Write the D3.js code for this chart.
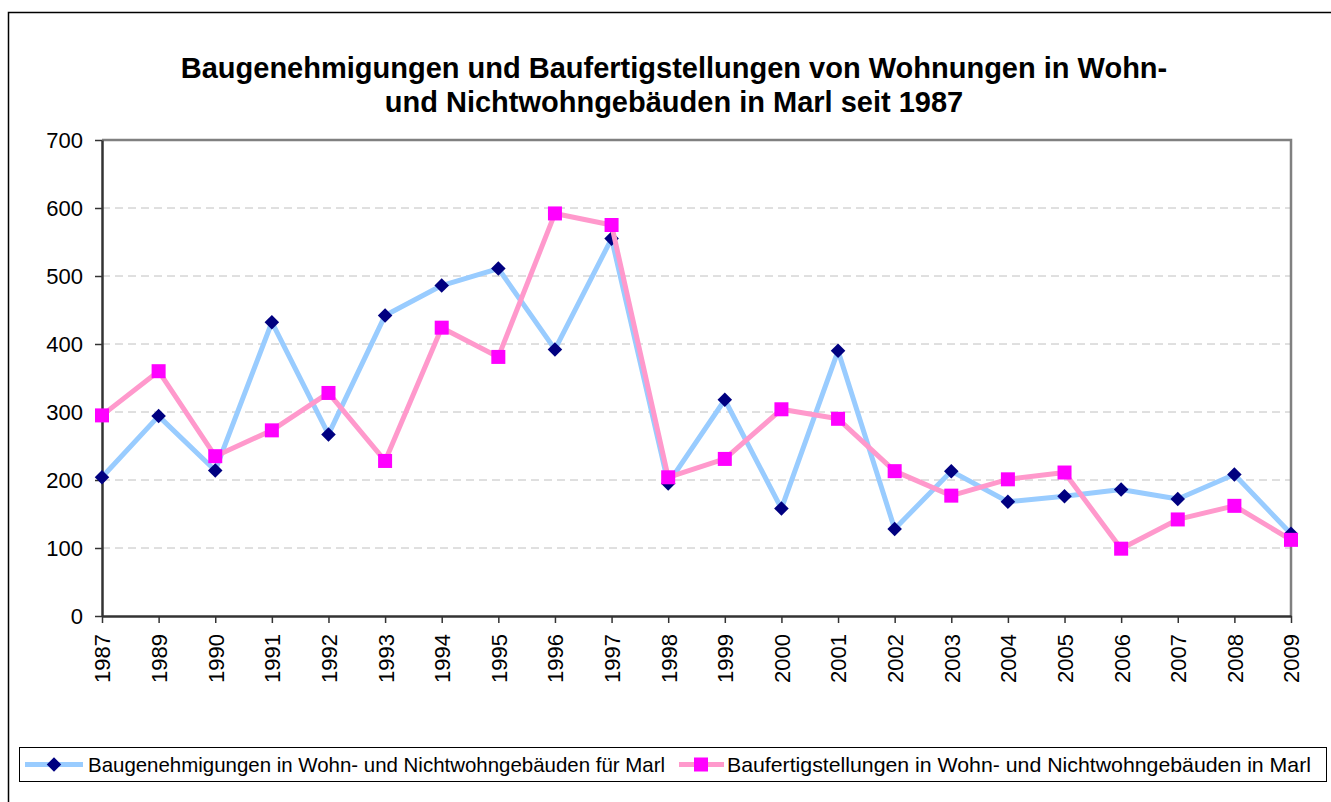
<!DOCTYPE html>
<html>
<head>
<meta charset="utf-8">
<script src="https://cdn.jsdelivr.net/npm/d3@7"></script>
<style>
  body { margin: 0; background: #fff; }
  svg { display: block; font-family: "Liberation Sans", Arial, sans-serif; }
</style>
</head>
<body>
<div id="chart"></div>
<script>
// data
var years = ["1987","1989","1990","1991","1992","1993","1994","1995","1996","1997","1998",
             "1999","2000","2001","2002","2003","2004","2005","2006","2007","2008","2009"];
var genehmigungen = [204,294,214,432,267,442,486,511,392,555,195,318,158,390,128,213,168,176,186,172,208,121];
var fertigstellungen = [295,360,235,273,328,228,424,381,592,575,204,231,304,290,213,177,201,211,99,142,162,112];
var yTicks = [0,100,200,300,400,500,600,700];
var seriesNames = ["Baugenehmigungen in Wohn- und Nichtwohngebäuden für Marl",
                   "Baufertigstellungen in Wohn- und Nichtwohngebäuden in Marl"];

var W = 1331, H = 802;
var plotLeft = 102, plotRight = 1291, plotTop = 140, plotBottom = 616;

var svg = d3.select("#chart").append("svg")
  .attr("width", W).attr("height", H);

// outer frame (runs off the right/bottom edge)
svg.append("rect")
  .attr("x", 8.5).attr("y", 12.5)
  .attr("width", 1340).attr("height", 800)
  .attr("fill", "#fff").attr("stroke", "#000").attr("stroke-width", 1.5);

//Scales
var x = d3.scalePoint().domain(years).range([plotLeft, plotRight]);
var y = d3.scaleLinear().domain([0, 700]).range([plotBottom, plotTop]);

//Title
var title = svg.append("text")
  .attr("text-anchor", "middle")
  .style("font-weight", "bold").style("font-size", "29px");
title.append("tspan").attr("x", 674).attr("y", 78)
  .text("Baugenehmigungen und Baufertigstellungen von Wohnungen in Wohn-");
title.append("tspan").attr("x", 674).attr("y", 112)
  .text("und Nichtwohngebäuden in Marl seit 1987");

//Gridlines
svg.append("g").selectAll("line")
  .data(yTicks.filter(function(d){ return d > 0 && d < 700; }))
  .enter().append("line")
  .attr("x1", plotLeft).attr("x2", plotRight)
  .attr("y1", function(d){ return y(d); }).attr("y2", function(d){ return y(d); })
  .attr("stroke", "#c0c0c0").attr("stroke-width", 1)
  .attr("stroke-dasharray", "8,5");

// top and right border of plot area
svg.append("path")
  .attr("d", "M" + plotLeft + "," + plotTop + "H" + plotRight + "V" + plotBottom)
  .attr("fill", "none").attr("stroke", "#808080").attr("stroke-width", 2.5);

//Axes
var yAxis = svg.append("g")
  .attr("transform", "translate(" + plotLeft + ",0)")
  .call(d3.axisLeft(y).tickValues(yTicks).tickSize(7).tickSizeOuter(0).tickPadding(12));
var xAxis = svg.append("g")
  .attr("transform", "translate(0," + plotBottom + ")")
  .call(d3.axisBottom(x).tickSize(7).tickSizeOuter(0));

[yAxis, xAxis].forEach(function(a) {
  a.select(".domain").attr("stroke", "#333").attr("stroke-width", 2.5);
  a.selectAll(".tick line").attr("stroke", "#333").attr("stroke-width", 1.5);
  a.selectAll("text").attr("fill", "#000").style("font-size", "22px")
    .style("font-family", "'Liberation Sans', Arial, sans-serif");
});
yAxis.selectAll("text").attr("dy", "0.36em");
xAxis.selectAll("text")
  .attr("transform", "rotate(-90)")
  .attr("text-anchor", "end")
  .attr("x", -18).attr("y", 0).attr("dy", "0.36em");

//Lines and markers
var line = d3.line()
  .x(function(d, i){ return x(years[i]); })
  .y(function(d){ return y(d); });

var diamond = d3.symbol().type(d3.symbolDiamond2).size(135);

svg.append("path").datum(genehmigungen)
  .attr("d", line).attr("fill", "none")
  .attr("stroke", "#99ccff").attr("stroke-width", 5).attr("stroke-linejoin", "round");
svg.append("g").selectAll("path")
  .data(genehmigungen).enter().append("path")
  .attr("d", diamond)
  .attr("transform", function(d, i){ return "translate(" + x(years[i]) + "," + y(d) + ")"; })
  .attr("fill", "#000080");

svg.append("path").datum(fertigstellungen)
  .attr("d", line).attr("fill", "none")
  .attr("stroke", "#ff99cc").attr("stroke-width", 5).attr("stroke-linejoin", "round");
svg.append("g").selectAll("rect")
  .data(fertigstellungen).enter().append("rect")
  .attr("x", function(d, i){ return x(years[i]) - 7; })
  .attr("y", function(d){ return y(d) - 7; })
  .attr("width", 14).attr("height", 14)
  .attr("fill", "#ff00ff");

//Legend
var legend = svg.append("g");
legend.append("rect")
  .attr("x", 19.5).attr("y", 747.5).attr("width", 1307).attr("height", 34)
  .attr("fill", "#fff").attr("stroke", "#000").attr("stroke-width", 1);

var ly = 764.5;
legend.append("line").attr("x1", 25).attr("x2", 83).attr("y1", ly).attr("y2", ly)
  .attr("stroke", "#99ccff").attr("stroke-width", 5);
legend.append("path").attr("d", diamond)
  .attr("transform", "translate(54," + ly + ")").attr("fill", "#000080");
legend.append("text").attr("x", 88).attr("y", ly).attr("dy", "0.36em")
  .attr("textLength", 577).attr("lengthAdjust", "spacingAndGlyphs")
  .style("font-size", "20.8px").text(seriesNames[0]);

legend.append("line").attr("x1", 679).attr("x2", 724).attr("y1", ly).attr("y2", ly)
  .attr("stroke", "#ff99cc").attr("stroke-width", 5);
legend.append("rect").attr("x", 701 - 7).attr("y", ly - 7)
  .attr("width", 14).attr("height", 14).attr("fill", "#ff00ff");
legend.append("text").attr("x", 727).attr("y", ly).attr("dy", "0.36em")
  .attr("textLength", 584).attr("lengthAdjust", "spacingAndGlyphs")
  .style("font-size", "20.8px").text(seriesNames[1]);
</script>
</body>
</html>
